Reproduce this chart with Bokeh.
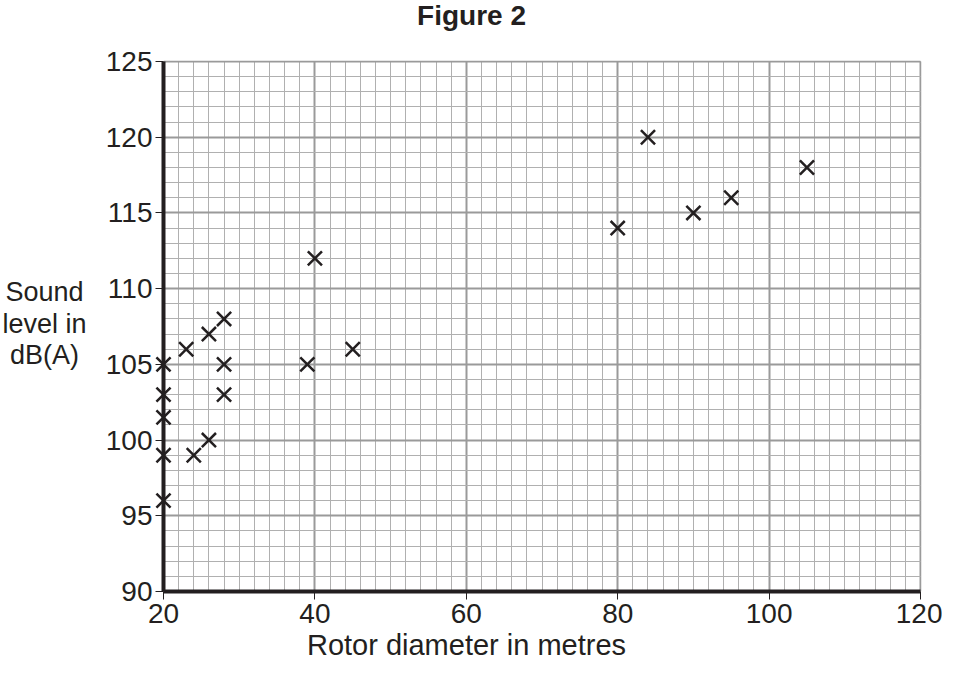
from bokeh.plotting import figure
from bokeh.models import Range1d, SingleIntervalTicker, BoxAnnotation, Label
from bokeh.embed import file_html
from bokeh.resources import INLINE

# Data
rotor_diameter = [20, 20, 20, 20, 20, 23, 24, 26, 26, 28, 28, 28, 39, 40, 45, 80, 84, 90, 95, 105]
sound_level = [105, 103, 101.5, 99, 96, 106, 99, 107, 100, 108, 105, 103, 105, 112, 106, 114, 120, 115, 116, 118]

x_ticks = [20, 40, 60, 80, 100, 120]
y_ticks = [90, 95, 100, 105, 110, 115, 120, 125]
x_min, x_max = 20, 120
y_min, y_max = 90, 125

title_text = "Figure 2"
x_label = "Rotor diameter in metres"
y_label_lines = ["Sound", "level in", "dB(A)"]

FONT = "Liberation Sans"
INK = "#231f20"

# ---- layout (canvas pixels) ----
W, H = 942, 661
X0_PX, X1_PX = 163, 920   # where x_min and x_max sit
Y0_PX, Y1_PX = 591, 61    # where y_min and y_max sit
SX = (X1_PX - X0_PX) / (x_max - x_min)
SY = (Y0_PX - Y1_PX) / (y_max - y_min)
TEXT_SHIFT = 10           # labels render this much lower than the given baseline


def dx(px):
    return x_min + (px - X0_PX) / SX


def dy(py):
    return y_min + (Y0_PX - py) / SY


# the frame fills the whole canvas; axes are drawn at fixed locations inside it
p = figure(width=W, height=H, output_backend="svg", toolbar_location=None,
           x_range=Range1d(dx(0), dx(W)), y_range=Range1d(dy(H), dy(0)),
           min_border=0, min_border_left=0, min_border_right=0,
           min_border_top=0, min_border_bottom=0)
p.outline_line_color = None
p.background_fill_color = "white"
p.border_fill_color = "white"

# Grid (graph paper)
p.xgrid.ticker = SingleIntervalTicker(interval=20, num_minor_ticks=10)
p.ygrid.ticker = SingleIntervalTicker(interval=5, num_minor_ticks=5)
for g in (p.xgrid, p.ygrid):
    g.grid_line_color = "#9a9a9a"
    g.grid_line_width = 2
    g.minor_grid_line_color = "#b0b0b0"
    g.minor_grid_line_width = 1
    g.level = "underlay"
try:
    p.xgrid.cross_bounds = (y_min, y_max)
    p.ygrid.cross_bounds = (x_min, x_max)
except Exception:
    pass

# white masks outside the graph-paper area
for kw in (dict(left=dx(-20), right=x_min, bottom=dy(H + 20), top=dy(-20)),
           dict(left=dx(X1_PX + 1), right=dx(W + 20), bottom=dy(H + 20), top=dy(-20)),
           dict(left=dx(-20), right=dx(W + 20), bottom=dy(H + 20), top=y_min),
           dict(left=dx(-20), right=dx(W + 20), bottom=dy(Y1_PX - 1), top=dy(-20))):
    p.add_layout(BoxAnnotation(fill_color="white", fill_alpha=1.0,
                               line_color=None, level="underlay", **kw))

# Axes
xax = p.xaxis[0]
yax = p.yaxis[0]
xax.ticker = x_ticks
yax.ticker = y_ticks
xax.bounds = (x_min, x_max)
yax.bounds = (y_min, y_max)
xax.fixed_location = y_min
yax.fixed_location = x_min
for ax in (xax, yax):
    ax.axis_line_color = INK
    ax.axis_line_width = 4
    ax.major_tick_line_color = INK
    ax.major_tick_line_width = 1
    ax.major_tick_out = 8
    ax.major_tick_in = 0
    ax.minor_tick_line_color = None
    ax.major_label_text_font = FONT
    ax.major_label_text_font_size = "28px"
    ax.major_label_text_color = INK
xax.major_label_standoff = 4
yax.major_label_standoff = 3

# Points
r = p.scatter(rotor_diameter, sound_level, marker="x", size=20,
              line_color=INK, line_width=2.5)
r.level = "overlay"

# Texts (baselines given in canvas pixels)
p.add_layout(Label(x=dx(471), y=dy(25 - TEXT_SHIFT), text=title_text, text_font=FONT,
                   text_font_size="28px", text_font_style="bold", text_color=INK,
                   text_align="center", text_baseline="alphabetic"))
p.add_layout(Label(x=dx(466), y=dy(654 - TEXT_SHIFT), text=x_label, text_font=FONT,
                   text_font_size="29px", text_color=INK,
                   text_align="center", text_baseline="alphabetic"))
for line, base_px in zip(y_label_lines, (301, 333, 364)):
    p.add_layout(Label(x=dx(44), y=dy(base_px - TEXT_SHIFT), text=line, text_font=FONT,
                       text_font_size="27px", text_color=INK,
                       text_align="center", text_baseline="alphabetic"))

open("out.html", "w").write(file_html(p, INLINE))
